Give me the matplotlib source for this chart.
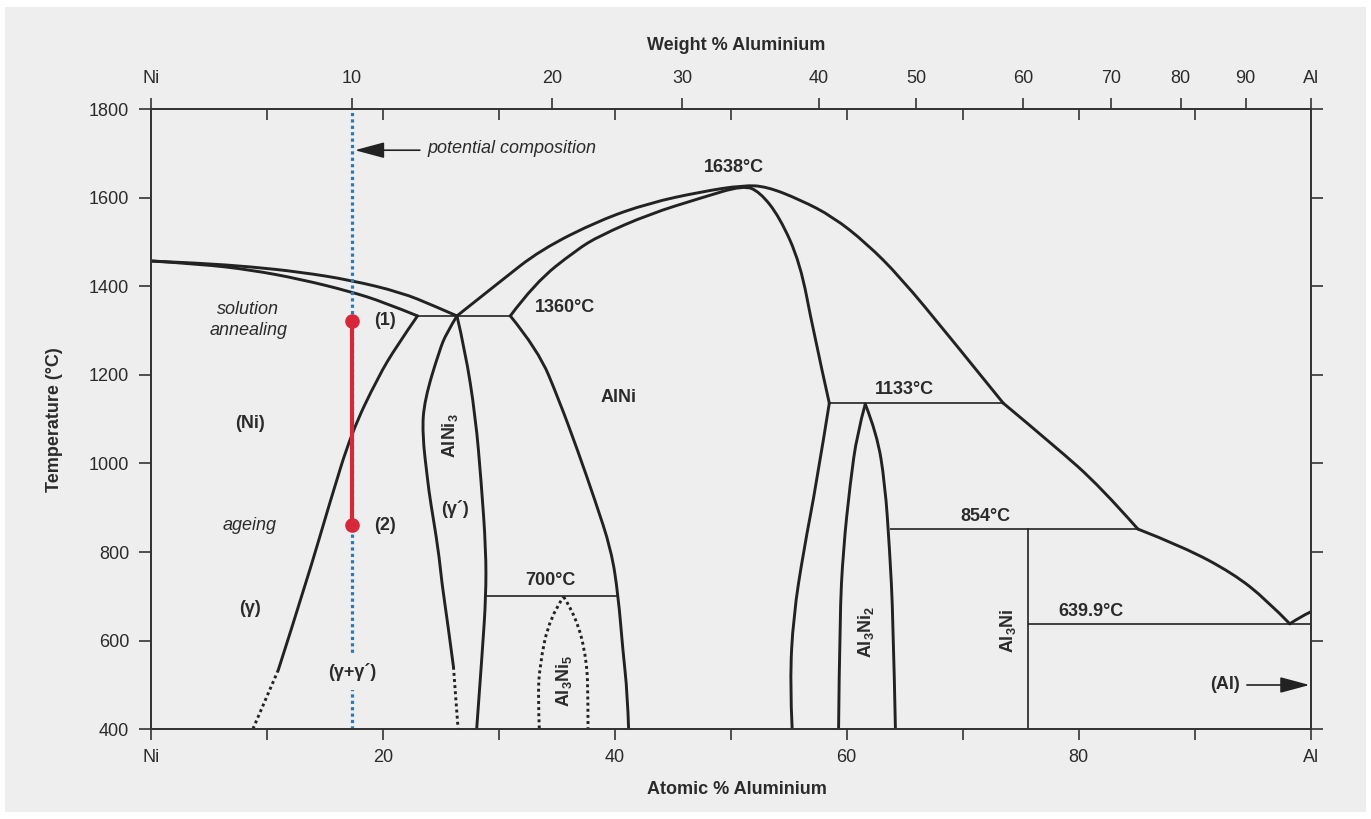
import matplotlib.pyplot as plt
from matplotlib.patches import PathPatch, Rectangle
from matplotlib.path import Path

plt.rcParams['font.family'] = ['Liberation Sans', 'DejaVu Sans']
plt.rcParams['mathtext.default'] = 'regular'

INK = '#2b2b2b'
LINE = '#222222'
BG = '#eeeeee'
RED = '#d7283b'
BLUE = '#1f7dc6'

# x = atomic % Al, T = temperature in °C
LIQ_NI_X = [0, 4.3, 8.6, 12.9, 17.2, 21.6, 24.4, 26.4]
LIQ_NI_T = [1457, 1452, 1444, 1432, 1414, 1386, 1356, 1333]
SOL_NI_X = [0, 4.3, 8.6, 12.9, 17.2, 20.1, 23.0]
SOL_NI_T = [1457, 1450, 1437, 1416, 1388, 1364, 1333]
SOLVUS_NI_X = [23.0, 21.2, 19.6, 17.3, 15.5, 13.4, 11.0]
SOLVUS_NI_T = [1333, 1265, 1195, 1069, 917, 730, 534]
SOLVUS_NI_DOT_X = [11.0, 8.8]
SOLVUS_NI_DOT_T = [534, 400]

GP_LEFT_X = [26.4, 25.5, 24.9, 23.6, 23.4, 23.9, 24.1, 24.8, 25.1, 25.6, 26.1]
GP_LEFT_T = [1333, 1294, 1256, 1143, 1069, 956, 917, 805, 730, 640, 541]
GP_LEFT_DOT_X = [26.1, 26.5]
GP_LEFT_DOT_T = [541, 400]
GP_RIGHT_X = [26.4, 27.1, 28.0, 28.5, 28.9, 28.9, 28.6, 28.1]
GP_RIGHT_T = [1333, 1256, 1106, 956, 805, 700, 579, 400]

ALNI_LEFT_X = [31.0, 33.4, 35.2, 36.8, 38.3, 39.7, 40.3, 40.7, 41.1, 41.2]
ALNI_LEFT_T = [1333, 1256, 1143, 1030, 917, 805, 703, 579, 480, 400]
LIQ_X = [26.4, 30.1, 33.6, 38.7, 43.0, 47.4, 51.1, 53.1, 56.0, 58.8, 61.7,
         64.6, 68.9, 73.5]
LIQ_T = [1333, 1410, 1482, 1549, 1588, 1613, 1628, 1625, 1595, 1557, 1497,
         1421, 1285, 1136]
SOL_ALNI_X = [31.0, 33.1, 36.7, 38.7, 43.0, 47.4, 51.1, 52.5, 54.2, 56.0,
              57.1, 58.5]
SOL_ALNI_T = [1333, 1407, 1482, 1514, 1563, 1599, 1628, 1613, 1557, 1452,
              1301, 1136]
ALNI_RIGHT_X = [58.5, 57.4, 56.3, 55.4, 55.1, 55.3]
ALNI_RIGHT_T = [1136, 956, 805, 655, 505, 400]

LIQ_MID_X = [73.5, 77.9, 81.9, 85.1]
LIQ_MID_T = [1136, 1040, 947, 852]
LIQ_LOW_X = [85.1, 89.0, 93.3, 96.2, 98.2]
LIQ_LOW_T = [852, 812, 752, 692, 638]
AL_LIQ_X = [98.2, 99.1, 100]
AL_LIQ_T = [638, 654, 665]

AL3NI2_LEFT_X = [59.3, 59.4, 59.7, 60.3, 60.9, 61.6]
AL3NI2_LEFT_T = [400, 654, 805, 955, 1068, 1134]
AL3NI2_RIGHT_X = [61.6, 62.6, 63.3, 63.7, 64.0, 64.2]
AL3NI2_RIGHT_T = [1134, 1068, 955, 805, 654, 400]
AL3NI5_LEFT_X = [33.5, 33.4, 33.5, 34.4, 35.6]
AL3NI5_LEFT_T = [402, 466, 541, 654, 699]
AL3NI5_RIGHT_X = [35.6, 36.7, 37.6, 37.7, 37.7]
AL3NI5_RIGHT_T = [699, 654, 556, 466, 402]

# invariant lines: x start, x end, temperature
ISO_X0 = [23.0, 28.9, 58.5, 63.7, 75.6]
ISO_X1 = [31.0, 40.3, 73.5, 85.1, 100]
ISO_T = [1333, 701, 1136, 852, 638]
AL3NI_X = [75.6, 75.6]
AL3NI_T = [852, 400]

COMP_X = 17.33
ROUTE_T = [1321, 860]

AT_TICKS = list(range(0, 101, 10))
AT_LABELS = ['Ni', '', '20', '', '40', '', '60', '', '80', '', 'Al']
WT_POS = [0, 17.33, 34.6, 45.8, 57.6, 66.0, 75.2, 82.8, 88.8, 94.4, 100]
WT_LABELS = ['Ni', '10', '20', '30', '40', '50', '60', '70', '80', '90', 'Al']
T_TICKS = list(range(400, 1801, 200))


def curva(xs, ts):
    # quadratic B-spline through the read points, so the boundary looks drawn
    pts = list(zip(xs, ts))
    if len(pts) < 3:
        return Path(pts)
    verts = [pts[0]]
    codes = [Path.MOVETO]
    for i in range(1, len(pts) - 1):
        if i == len(pts) - 2:
            end = pts[-1]
        else:
            end = ((pts[i][0] + pts[i + 1][0]) / 2, (pts[i][1] + pts[i + 1][1]) / 2)
        verts += [pts[i], end]
        codes += [Path.CURVE3, Path.CURVE3]
    return Path(verts, codes)


def main():
    fig = plt.figure(figsize=(13.71, 8.19), dpi=100)
    fig.patch.set_facecolor('white')
    fig.patches.append(Rectangle((5 / 1371, 7 / 819), 1361 / 1371, 805 / 819,
                                 transform=fig.transFigure, facecolor=BG,
                                 edgecolor='none', zorder=-10))

    ax = fig.add_axes([150.7 / 1371, 89.7 / 819, 1160 / 1371, 620.3 / 819])
    ax.set_facecolor('none')
    ax.set_xlim(0, 100)
    ax.set_ylim(400, 1800)

    solidas = [(LIQ_NI_X, LIQ_NI_T), (SOL_NI_X, SOL_NI_T),
               (SOLVUS_NI_X, SOLVUS_NI_T), (GP_LEFT_X, GP_LEFT_T),
               (GP_RIGHT_X, GP_RIGHT_T), (ALNI_LEFT_X, ALNI_LEFT_T),
               (LIQ_X, LIQ_T), (SOL_ALNI_X, SOL_ALNI_T),
               (ALNI_RIGHT_X, ALNI_RIGHT_T), (LIQ_MID_X, LIQ_MID_T),
               (LIQ_LOW_X, LIQ_LOW_T), (AL_LIQ_X, AL_LIQ_T),
               (AL3NI2_LEFT_X, AL3NI2_LEFT_T), (AL3NI2_RIGHT_X, AL3NI2_RIGHT_T)]
    punteadas = [(SOLVUS_NI_DOT_X, SOLVUS_NI_DOT_T),
                 (GP_LEFT_DOT_X, GP_LEFT_DOT_T),
                 (AL3NI5_LEFT_X, AL3NI5_LEFT_T), (AL3NI5_RIGHT_X, AL3NI5_RIGHT_T)]
    for xs, ts in solidas:
        ax.add_patch(PathPatch(curva(xs, ts), fill=False, edgecolor=LINE,
                               lw=2.1, joinstyle='round', capstyle='round',
                               zorder=2))
    for xs, ts in punteadas:
        ax.add_patch(PathPatch(curva(xs, ts), fill=False, edgecolor=LINE,
                               lw=2.1, ls=(0, (1, 1.1)), zorder=2))

    ax.hlines(ISO_T, ISO_X0, ISO_X1, color=LINE, lw=1.2, zorder=2)
    ax.plot(AL3NI_X, AL3NI_T, color=LINE, lw=1.2, zorder=2)

    # potential composition and heat treatment route
    ax.plot([COMP_X, COMP_X], [400, 1800], color=BLUE, lw=2.3,
            ls=(0, (1, 1)), zorder=3)
    ax.plot([COMP_X, COMP_X], ROUTE_T, color=RED, lw=3, zorder=4,
            marker='o', ms=9.5, solid_capstyle='butt')

    bold = dict(fontsize=13, fontweight='bold', color=INK, ha='center',
                va='center', zorder=5)
    ital = dict(fontsize=13, fontstyle='italic', color=INK, ha='center',
                va='center', zorder=5)
    ax.text(50.3, 1667, '1638°C', **bold)
    ax.text(35.7, 1353, '1360°C', **bold)
    ax.text(40.3, 1148, 'AlNi', **bold)
    ax.text(65.0, 1166, '1133°C', **bold)
    ax.text(72.0, 881, '854°C', **bold)
    ax.text(81.1, 665, '639.9°C', **bold)
    ax.text(34.5, 735, '700°C', **bold)
    ax.text(8.56, 1091, '(Ni)', **bold)
    ax.text(8.56, 672, '(γ)', **bold)
    ax.text(26.2, 897, '(γ´)', **bold)
    ax.text(17.35, 530, '(γ+γ´)',
            bbox=dict(facecolor=BG, edgecolor='none', pad=7), **bold)
    ax.text(19.25, 1323, '(1)', **{**bold, 'ha': 'left'})
    ax.text(19.25, 859, '(2)', **{**bold, 'ha': 'left'})
    ax.text(25.8, 1062, 'AlNi$_3$', rotation=90, **bold)
    ax.text(35.6, 509, 'Al$_3$Ni$_5$', rotation=90, **bold)
    ax.text(61.7, 620, 'Al$_3$Ni$_2$', rotation=90, **bold)
    ax.text(73.9, 623, 'Al$_3$Ni', rotation=90, **bold)
    ax.text(92.6, 500, '(Al)', **bold)
    ax.text(8.4, 1324, 'solution\nannealing', linespacing=1.25, **ital)
    ax.text(8.5, 861, 'ageing', **ital)
    ax.text(23.9, 1711, 'potential composition', **{**ital, 'ha': 'left'})

    arrow = dict(arrowstyle='-|>,head_length=1.3,head_width=0.35',
                 color=LINE, lw=1.2, mutation_scale=14, shrinkA=0, shrinkB=0)
    ax.annotate('', xy=(17.6, 1707), xytext=(23.2, 1707), arrowprops=arrow,
                zorder=5)
    ax.annotate('', xy=(99.9, 500), xytext=(94.5, 500), arrowprops=arrow,
                zorder=5)

    # axes styling
    for side in ax.spines.values():
        side.set_color('#333333')
        side.set_linewidth(1.3)
    ax.set_xticks(AT_TICKS)
    ax.set_xticklabels(AT_LABELS)
    ax.set_yticks(T_TICKS)
    ax.tick_params(axis='x', direction='out', length=8, width=1.2,
                   color='#333333', labelsize=13, labelcolor=INK, pad=6)
    ax.tick_params(axis='y', direction='out', length=8.6, width=1.2,
                   color='#333333', labelsize=13, labelcolor=INK, pad=7,
                   right=True)
    ax.set_xlabel('Atomic % Aluminium', fontsize=13, fontweight='bold',
                  color=INK)
    ax.xaxis.set_label_coords(0.505, -0.0834)
    ax.set_ylabel('Temperature (°C)', fontsize=13, fontweight='bold',
                  color=INK)
    ax.yaxis.set_label_coords(-0.0756, 0.5)

    top = ax.twiny()
    top.set_xlim(0, 100)
    top.set_xticks(WT_POS)
    top.set_xticklabels(WT_LABELS)
    top.set_xticks(AT_TICKS[1:-1], minor=True)
    top.tick_params(which='major', direction='out', length=8, width=1.2,
                    color='#333333', labelsize=13, labelcolor=INK, pad=8)
    top.tick_params(which='minor', direction='in', length=8, width=1.2,
                    color='#333333')
    for side in top.spines.values():
        side.set_color('#333333')
        side.set_linewidth(1.3)
    top.set_xlabel('Weight % Aluminium', fontsize=13, fontweight='bold',
                   color=INK)
    top.xaxis.set_label_coords(0.505, 1.095)

    fig.savefig('out.png', dpi=100, facecolor='white')


if __name__ == '__main__':
    main()
